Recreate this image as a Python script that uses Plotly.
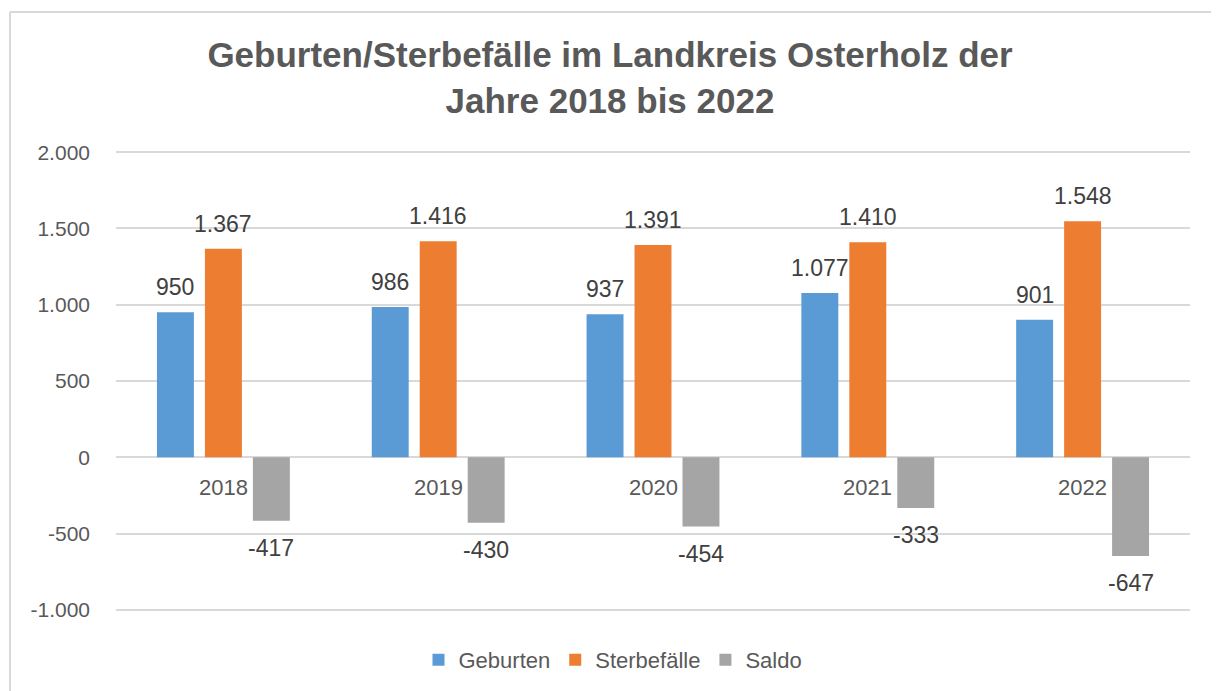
import plotly.graph_objects as go

categories = ["2018", "2019", "2020", "2021", "2022"]
geburten = [950, 986, 937, 1077, 901]
sterbefaelle = [1367, 1416, 1391, 1410, 1548]
saldo = [-417, -430, -454, -333, -647]
tick_vals = [-1000, -500, 0, 500, 1000, 1500, 2000]
tick_text = ["-1.000", "-500", "0", "500", "1.000", "1.500", "2.000"]


def de(v):
    s = f"{abs(v):,}".replace(",", ".")
    return ("-" if v < 0 else "") + s


FONT = "Liberation Sans, Arial"
OFF = 8  # page body margin
W, H = 1211, 683
L, T = 116 - OFF, 152 - OFF - 1
R = W - (1190 - OFF)
B = H - (610 - OFF) - 1
pw, ph = W - L - R, H - T - B
BARGAP = 0.33

label_font = dict(family=FONT, size=23, color="#404040")
series = [
    ("Geburten", geburten, "#5B9BD5"),
    ("Sterbefälle", sterbefaelle, "#ED7D31"),
    ("Saldo", saldo, "#A5A5A5"),
]

fig = go.Figure()
slot = (1 - BARGAP) / len(series)
for k, (name, vals, col) in enumerate(series):
    fig.add_trace(go.Bar(
        name=name, x=categories, y=vals,
        marker=dict(color=col, line=dict(width=0)),
    ))
    for i, v in enumerate(vals):
        pos = v >= 0
        fig.add_annotation(
            x=i + (k - (len(series) - 1) / 2) * slot, y=v, xref="x", yref="y",
            text=de(v), showarrow=False, font=label_font,
            yanchor="bottom" if pos else "top", yshift=10 if pos else -12,
        )

for i, c in enumerate(categories):
    fig.add_annotation(x=i, y=0, xref="x", yref="y", text=c, showarrow=False,
                       yshift=-30, font=dict(family=FONT, size=22, color="#595959"))

fx0 = (10 - OFF - L) / pw
fy1 = 1 + (T - (12 - OFF)) / ph
fx1 = 1 + (R + 20) / pw
fy0 = -(B + 20) / ph
fig.add_shape(type="line", xref="paper", yref="paper", x0=fx0, x1=fx0, y0=fy0, y1=fy1,
              line=dict(color="#d9d9d9", width=2))
fig.add_shape(type="line", xref="paper", yref="paper", x0=fx0, x1=fx1, y0=fy1, y1=fy1,
              line=dict(color="#d9d9d9", width=2))

fig.update_layout(
    width=W, height=H,
    margin=dict(l=L, r=R, t=T, b=B, autoexpand=False),
    paper_bgcolor="white", plot_bgcolor="white",
    barmode="group", bargap=BARGAP, bargroupgap=0.23,
    font=dict(family=FONT, color="#595959"),
    title=dict(
        text="<b>Geburten/Sterbefälle im Landkreis Osterholz der<br>Jahre 2018 bis 2022</b>",
        x=(610 - OFF) / W, xref="container", xanchor="center",
        y=1 - (67 - OFF) / H, yref="container", yanchor="middle",
        font=dict(family=FONT, size=35, color="#595959"),
    ),
    xaxis=dict(type="category", range=[-0.5, len(categories) - 0.5], showticklabels=False,
               showgrid=False, zeroline=False, showline=False, ticks=""),
    yaxis=dict(range=[-1008, 2008], tickvals=tick_vals, ticktext=tick_text,
               showgrid=True, gridcolor="#d9d9d9", gridwidth=2,
               zeroline=True, zerolinecolor="#d9d9d9", zerolinewidth=2,
               showline=False, ticks="", ticklabelstandoff=25,
               tickfont=dict(family=FONT, size=21, color="#595959")),
    legend=dict(orientation="h", x=(613 - OFF - L) / pw, xanchor="center",
                y=-(660 - OFF - (T + ph)) / ph, yanchor="middle",
                font=dict(family=FONT, size=22, color="#595959"),
                itemwidth=30, traceorder="normal"),
    showlegend=True,
)

fig.write_html("out.html")
